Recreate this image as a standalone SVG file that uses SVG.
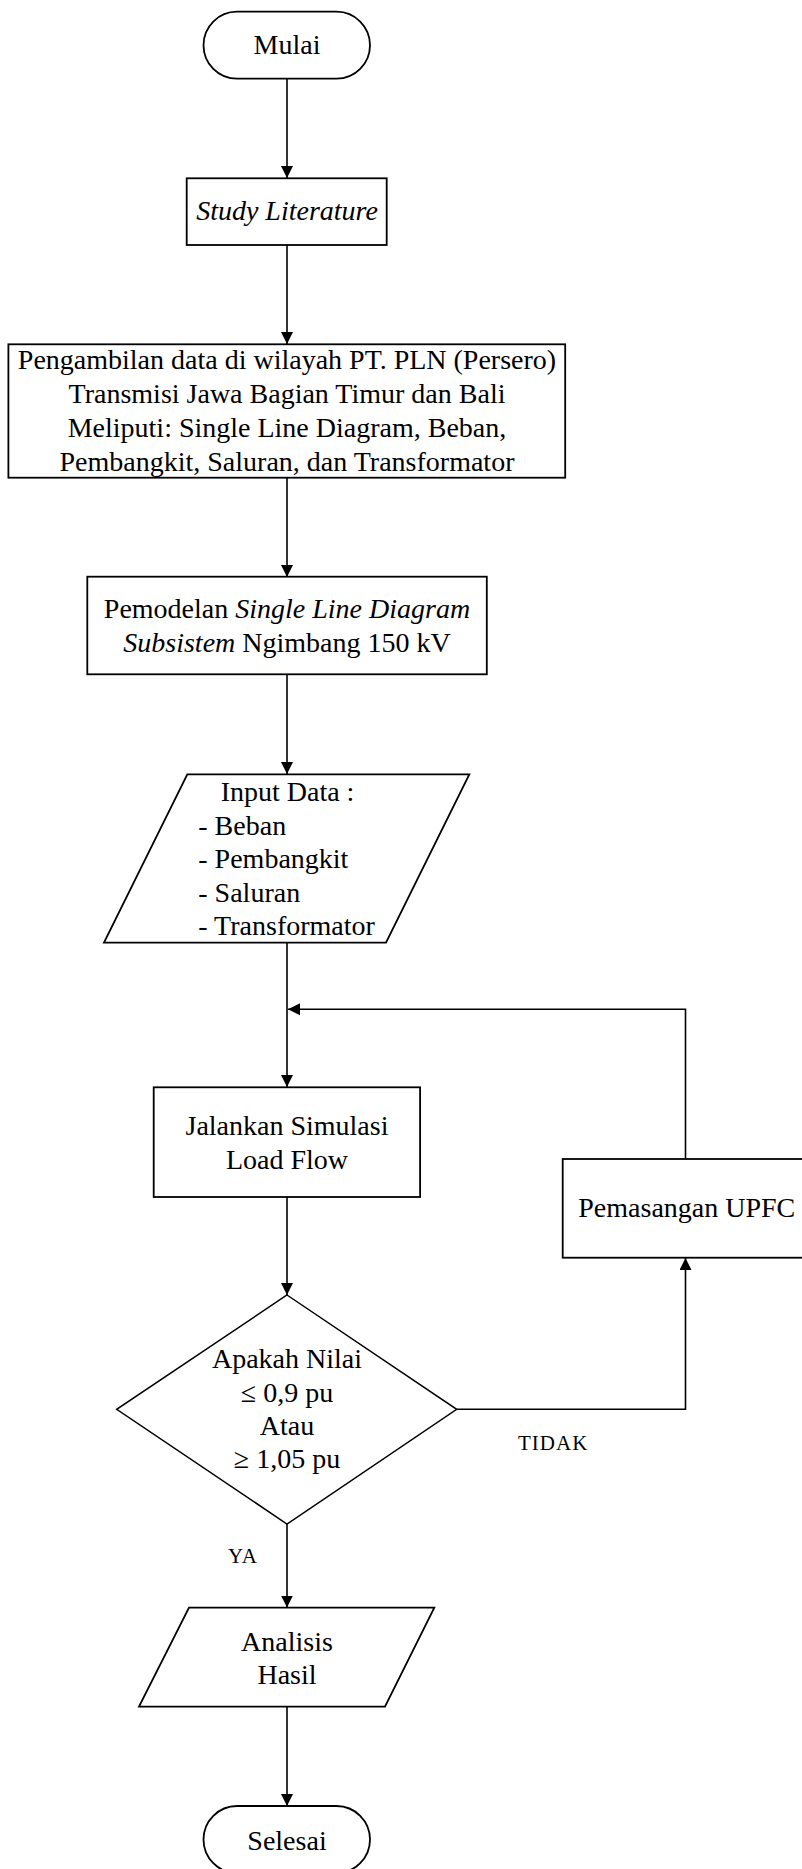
<svg xmlns="http://www.w3.org/2000/svg" width="802" height="1869" viewBox="0 0 802 1869">
<style>
.shape{fill:#fff;stroke:#000;stroke-width:1.8}
.t{font-family:"Liberation Serif","Times New Roman",serif;font-size:28px;fill:#000}
.c{text-anchor:middle}
.i{font-style:italic}
.lbl{font-family:"Liberation Serif","Times New Roman",serif;font-size:21px;letter-spacing:1px;fill:#000}
.ln{fill:none;stroke:#000;stroke-width:1.6}
</style>
<defs>
<marker id="arr" viewBox="0 0 12 12" refX="12" refY="6" markerWidth="12" markerHeight="12" markerUnits="userSpaceOnUse" orient="auto">
<path d="M0,0 L12,6 L0,12 Z" fill="#000"/>
</marker>
</defs>
<rect width="802" height="1869" fill="#fff"/>
<g id="connectors">
<path class="ln" d="M287,79 V178" marker-end="url(#arr)"/>
<path class="ln" d="M287,245 V344" marker-end="url(#arr)"/>
<path class="ln" d="M287,478 V577" marker-end="url(#arr)"/>
<path class="ln" d="M287,674 V774" marker-end="url(#arr)"/>
<path class="ln" d="M287,943 V1087" marker-end="url(#arr)"/>
<path class="ln" d="M287,1197 V1295" marker-end="url(#arr)"/>
<path class="ln" d="M457,1409.3 H685.5 V1258" marker-end="url(#arr)"/>
<path class="ln" d="M685.5,1159 V1009.3 H288" marker-end="url(#arr)"/>
<path class="ln" d="M287,1524 V1607.5" marker-end="url(#arr)"/>
<path class="ln" d="M287,1707 V1806" marker-end="url(#arr)"/>
<text class="lbl" x="518" y="1450">TIDAK</text>
<text class="lbl" x="228" y="1563">YA</text>
</g>
<g id="mulai">
<rect class="shape" x="203.5" y="11.7" width="166.5" height="67" rx="33.5" ry="33.5"/>
<text class="t c" x="287" y="54">Mulai</text>
</g>
<g id="study">
<rect class="shape" x="186.7" y="178.3" width="200" height="66.7"/>
<text class="t c i" x="287" y="219.5">Study Literature</text>
</g>
<g id="pengambilan">
<rect class="shape" x="8.4" y="344.3" width="556.8" height="133.4"/>
<text class="t c" x="287" y="369">Pengambilan data di wilayah PT. PLN (Persero)</text>
<text class="t c" x="287" y="403">Transmisi Jawa Bagian Timur dan Bali</text>
<text class="t c" x="287" y="437">Meliputi: Single Line Diagram, Beban,</text>
<text class="t c" x="287" y="471">Pembangkit, Saluran, dan Transformator</text>
</g>
<g id="pemodelan">
<rect class="shape" x="87.3" y="576.7" width="399.5" height="97.6"/>
<text class="t c" x="287" y="618">Pemodelan <tspan class="i">Single Line Diagram</tspan></text>
<text class="t c" x="287" y="652"><tspan class="i">Subsistem</tspan> Ngimbang 150 kV</text>
</g>
<g id="input">
<polygon class="shape" points="187.3,774.3 469.3,774.3 386,942.7 104,942.7"/>
<text class="t c" x="287.5" y="801">Input Data :</text>
<text class="t" x="198.3" y="834.5">- Beban</text>
<text class="t" x="198.3" y="868">- Pembangkit</text>
<text class="t" x="198.3" y="901.5">- Saluran</text>
<text class="t" x="198.3" y="935">- Transformator</text>
</g>
<g id="jalankan">
<rect class="shape" x="153.7" y="1087.3" width="266.4" height="109.7"/>
<text class="t c" x="287" y="1135">Jalankan Simulasi</text>
<text class="t c" x="287" y="1168.5">Load Flow</text>
</g>
<g id="upfc">
<rect class="shape" x="562.7" y="1159" width="246" height="98.7"/>
<text class="t" x="578.3" y="1217.3">Pemasangan UPFC</text>
</g>
<g id="decision">
<polygon class="shape" points="287,1295 456.7,1409.3 287,1524 116.7,1409.3" style="stroke-width:1.5"/>
<text class="t c" x="287" y="1368.3">Apakah Nilai</text>
<text class="t c" x="287" y="1401.7">≤ 0,9 pu</text>
<text class="t c" x="287" y="1435">Atau</text>
<text class="t c" x="287" y="1468.3">≥ 1,05 pu</text>
</g>
<g id="analisis">
<polygon class="shape" points="189,1607.7 434.3,1607.7 385,1706.7 139,1706.7"/>
<text class="t c" x="287" y="1650.7">Analisis</text>
<text class="t c" x="287" y="1684">Hasil</text>
</g>
<g id="selesai">
<rect class="shape" x="203.5" y="1806" width="166.5" height="67" rx="33.5" ry="33.5"/>
<text class="t c" x="287" y="1850">Selesai</text>
</g>
</svg>
